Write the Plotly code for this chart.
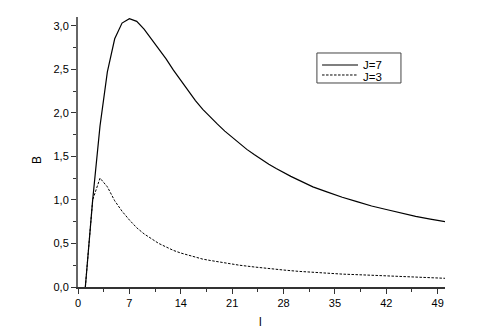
import plotly.graph_objects as go

l7 = [1, 2, 3, 4, 5, 6, 7, 8, 9, 10, 11, 12, 13, 14, 15, 16, 17, 18, 19, 20, 21, 22, 23, 24, 25, 26, 27, 28, 29, 30,
      32, 34, 36, 38, 40, 42, 44, 46, 48, 50]
b7 = [0, 1.0, 1.85, 2.47, 2.85, 3.03, 3.08, 3.05, 2.96, 2.85, 2.74, 2.62, 2.49, 2.37, 2.26, 2.14, 2.04, 1.95, 1.87,
      1.79, 1.72, 1.64, 1.58, 1.52, 1.46, 1.41, 1.36, 1.31, 1.27, 1.23, 1.15, 1.09, 1.03, 0.98, 0.93, 0.89, 0.85,
      0.81, 0.78, 0.75]

l3 = [1, 2, 3, 4, 5, 6, 7, 8, 9, 10, 11, 12, 13, 14, 15, 16, 17, 18, 19, 20, 22, 24, 26, 28, 30, 33, 36, 40, 44, 48, 50]
b3 = [0, 1.0, 1.25, 1.15, 0.99, 0.87, 0.77, 0.68, 0.61, 0.55, 0.50, 0.46, 0.42, 0.39, 0.365, 0.34, 0.32, 0.305,
      0.29, 0.275, 0.25, 0.23, 0.21, 0.195, 0.18, 0.163, 0.148, 0.135, 0.12, 0.107, 0.10]

x_ticks = [0, 7, 14, 21, 28, 35, 42, 49]
y_ticks = [0, 0.5, 1.0, 1.5, 2.0, 2.5, 3.0]
y_tick_text = ["0,0", "0,5", "1,0", "1,5", "2,0", "2,5", "3,0"]
names = ["J=7", "J=3"]
x_title = "l"
y_title = "B"

FONT = "Liberation Sans, Arial"

fig = go.Figure()
fig.add_trace(go.Scatter(x=l7, y=b7, mode="lines", name=names[0],
                         line=dict(color="black", width=1.2)))
fig.add_trace(go.Scatter(x=l3, y=b3, mode="lines", name=names[1],
                         line=dict(color="black", width=1, dash="2.5px,1.5px")))

# manual legend box (paper coordinates)
fig.add_shape(type="rect", xref="paper", yref="paper", x0=0.651, x1=0.880, y0=0.7556, y1=0.8667,
              line=dict(color="#444", width=1), fillcolor="white", layer="above")
fig.add_shape(type="line", xref="paper", yref="paper", x0=0.665, x1=0.763, y0=0.8222, y1=0.8222,
              line=dict(color="black", width=1.2))
fig.add_shape(type="line", xref="paper", yref="paper", x0=0.665, x1=0.763, y0=0.7852, y1=0.7852,
              line=dict(color="black", width=1, dash="2.5px,1.5px"))
for name, yy in zip(names, [0.824, 0.7796]):
    fig.add_annotation(xref="paper", yref="paper", x=0.772, y=yy, text=name, showarrow=False,
                       xanchor="left", yanchor="middle",
                       font=dict(family=FONT, size=11.5, color="black"))

# axis titles
fig.add_annotation(xref="paper", yref="paper", x=0.4986, y=-0.1296, text=x_title, showarrow=False,
                   xanchor="center", yanchor="middle", font=dict(family=FONT, size=12, color="black"))
fig.add_annotation(xref="paper", yref="paper", x=-0.112, y=0.47, text=y_title, showarrow=False,
                   textangle=-90, xanchor="center", yanchor="middle",
                   font=dict(family=FONT, size=12, color="black"))

fig.update_layout(
    width=498, height=334,
    margin=dict(l=78, r=53, t=17, b=47, autoexpand=False),
    paper_bgcolor="white", plot_bgcolor="white",
    font=dict(family=FONT, size=11, color="black"),
    showlegend=False,
    xaxis=dict(range=[0, 50], tickvals=x_ticks, ticks="outside", ticklen=5, automargin=False,
               tickwidth=1, tickcolor="#333", showline=True, linecolor="#333",
               linewidth=1.5, showgrid=False, zeroline=False,
               minor=dict(dtick=3.5, tick0=0, ticks="outside", ticklen=3, tickcolor="#333", showgrid=False)),
    yaxis=dict(range=[0, 3.1], tickvals=y_ticks, ticktext=y_tick_text, ticks="outside", automargin=False,
               ticklen=5, tickwidth=1, tickcolor="#333", showline=True, linecolor="#666",
               linewidth=2, showgrid=False, zeroline=False,
               minor=dict(dtick=0.25, tick0=0, ticks="outside", ticklen=3, tickcolor="#333", showgrid=False)),
)

fig.write_html("out.html")
